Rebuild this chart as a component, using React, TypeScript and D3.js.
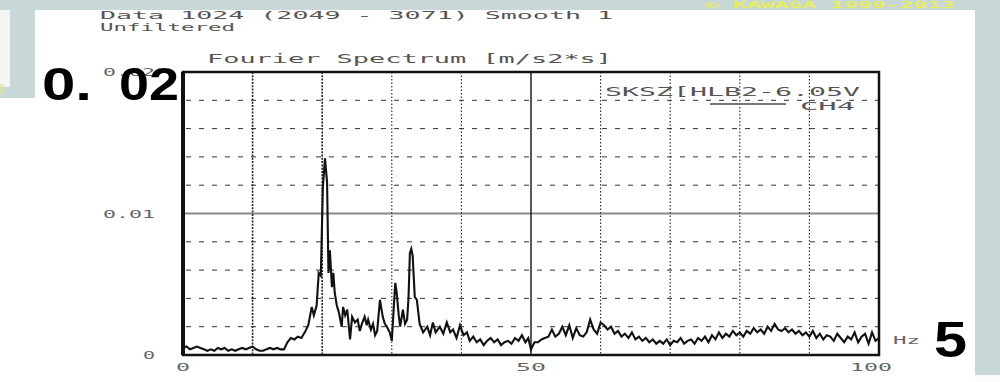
import React from 'react';
import * as d3 from 'd3';

// ---- data ----
const freqHz = [
  0, 0.5, 1, 1.5, 2, 2.5, 3, 3.5, 4, 4.5, 5, 5.5, 6, 6.5, 7, 7.5, 8, 8.5, 9, 9.5,
  10, 10.5, 11, 11.5, 12, 12.5, 13, 13.5, 14, 14.5, 15, 15.5, 16, 16.5, 17, 17.5, 18, 18.5, 18.8, 19.2,
  19.5, 19.8, 20.1, 20.4, 20.7, 20.9, 21.1, 21.4, 21.6, 21.8, 22.1, 22.4, 22.8, 23.0, 23.3, 23.6, 24.0, 24.3, 24.7, 25.1,
  25.4, 25.7, 26.1, 26.4, 26.6, 27.0, 27.3, 27.6, 27.9, 28.3, 28.7, 29.0, 29.3, 29.7, 30.0, 30.3, 30.5, 30.7, 31.0, 31.2,
  31.6, 31.9, 32.2, 32.4, 32.6, 32.8, 33.0, 33.3, 33.6, 34.0, 34.5, 35.1, 35.5, 35.9, 36.3, 36.9, 37.4, 37.9, 38.4, 38.8,
  39.3, 39.8, 40.3, 40.8, 41.2, 41.7, 42.2, 42.7, 43.2, 43.7, 44.2, 44.7, 45.2, 45.7, 46.2, 46.7, 47.2, 47.7, 48.2, 48.7,
  49.2, 49.6, 50.0, 50.5, 51.0, 51.5, 52.0, 52.5, 53.0, 53.5, 54.0, 54.5, 55.0, 55.5, 56.0, 56.5, 57.0, 57.5, 58.0, 58.5,
  59.0, 59.5, 60.0, 60.5, 61.0, 61.5, 62.0, 62.5, 63.0, 63.5, 64.0, 64.5, 65.0, 65.5, 66.0, 66.5, 67.0, 67.5, 68.0, 68.5,
  69.0, 69.5, 70.0, 70.5, 71.0, 71.5, 72.0, 72.5, 73.0, 73.5, 74.0, 74.5, 75.0, 75.5, 76.0, 76.5, 77.0, 77.5, 78.0, 78.5,
  79.0, 79.5, 80.0, 80.5, 81.0, 81.5, 82.0, 82.5, 83.0, 83.5, 84.0, 84.5, 85.0, 85.5, 86.0, 86.5, 87.0, 87.5, 88.0, 88.5,
  89.0, 89.5, 90.0, 90.5, 91.0, 91.5, 92.0, 92.5, 93.0, 93.5, 94.0, 94.5, 95.0, 95.5, 96.0, 96.5, 97.0, 97.5, 98.0, 98.5,
  99.0, 99.5, 100.0,
];

const amplitude = [
  0.0005, 0.0006, 0.0004, 0.0005, 0.0006, 0.0005, 0.0004, 0.0003, 0.0004, 0.0003, 0.0005, 0.0004, 0.0005, 0.0003, 0.0004, 0.0003, 0.0004, 0.0005, 0.0004, 0.0005,
  0.0006, 0.0004, 0.0003, 0.0003, 0.0004, 0.0005, 0.0004, 0.0005, 0.0004, 0.0004, 0.0009, 0.0012, 0.0011, 0.0013, 0.0012, 0.0016, 0.0021, 0.0034, 0.0028, 0.0035,
  0.0058, 0.0056, 0.0119, 0.0139, 0.0122, 0.0058, 0.0074, 0.0048, 0.0058, 0.0044, 0.0035, 0.0030, 0.0020, 0.0034, 0.0028, 0.0032, 0.0011, 0.0027, 0.0023, 0.0025,
  0.0017, 0.0022, 0.0027, 0.0021, 0.0025, 0.0018, 0.0022, 0.0014, 0.0017, 0.0039, 0.0027, 0.0022, 0.0020, 0.0016, 0.0010, 0.0035, 0.0051, 0.0044, 0.0028, 0.0020,
  0.0032, 0.0022, 0.0025, 0.0040, 0.0072, 0.0075, 0.0070, 0.0041, 0.0039, 0.0022, 0.0016, 0.0020, 0.0014, 0.0023, 0.0016, 0.0020, 0.0015, 0.0023, 0.0016, 0.0018,
  0.0012, 0.0021, 0.0014, 0.0016, 0.0010, 0.0013, 0.0009, 0.0011, 0.0007, 0.0010, 0.0012, 0.0009, 0.0011, 0.0007, 0.0009, 0.0010, 0.0008, 0.0012, 0.0010, 0.0014,
  0.0009, 0.0012, 0.0004, 0.0009, 0.0009, 0.0011, 0.0012, 0.0013, 0.0018, 0.0013, 0.0015, 0.0020, 0.0014, 0.0021, 0.0012, 0.0019, 0.0014, 0.0013, 0.0016, 0.0025,
  0.0018, 0.0015, 0.0023, 0.0021, 0.0018, 0.0020, 0.0015, 0.0017, 0.0013, 0.0015, 0.0012, 0.0016, 0.0011, 0.0013, 0.0010, 0.0012, 0.0009, 0.0011, 0.0008, 0.0010,
  0.0008, 0.0011, 0.0007, 0.0010, 0.0009, 0.0012, 0.0008, 0.0010, 0.0011, 0.0008, 0.0012, 0.0010, 0.0013, 0.0009, 0.0014, 0.0011, 0.0016, 0.0012, 0.0015, 0.0013,
  0.0017, 0.0014, 0.0016, 0.0013, 0.0017, 0.0015, 0.0019, 0.0016, 0.0018, 0.0015, 0.0020, 0.0017, 0.0022, 0.0018, 0.0017, 0.0019, 0.0016, 0.0018, 0.0015, 0.0017,
  0.0014, 0.0016, 0.0013, 0.0017, 0.0012, 0.0015, 0.0011, 0.0014, 0.0013, 0.0010, 0.0015, 0.0012, 0.0009, 0.0013, 0.0011, 0.0016, 0.0009, 0.0013, 0.0015, 0.0008,
  0.0016, 0.0010, 0.0012,
];

const yLabelTicks = [0, 0.01, 0.02];
const yLabelText = ['0', '0.01', '0.02'];
const xLabelTicks = [0, 50, 100];
const headerLine1 = 'Data 1024 (2049 - 3071)  Smooth 1';
const headerLine2 = 'Unfiltered';
const chartTitle = 'Fourier Spectrum [m/s2*s]';
const legendTitle = 'SKSZ[HLB2-6.05V';
const seriesName = 'CH4';
const unitLabel = 'Hz';
const overlayBig = ['0.', '02'];
const overlayRight = '5';
const watermark = '© KAWAGA 1999-2013';

const MONO = '"DejaVu Sans Mono", monospace';
const TXT = '#555';

export default function App() {
  const W = 1000;
  const H = 382;
  const left = 183, right = 879, top = 72, bottom = 355;

  const x = d3.scaleLinear().domain([0, 100]).range([left, right]);
  const y = d3.scaleLinear().domain([0, 0.02]).range([bottom, top]);
  const xGrid = x.ticks(10);
  const yGrid = y.ticks(10);

  const pts: [number, number][] = freqHz.map((f, i) => [f, amplitude[i]]);
  const path = d3
    .line<[number, number]>()
    .x((d) => x(d[0]))
    .y((d) => y(d[1]))(pts) || '';

  return (
    <svg
      width={W}
      height={H}
      style={{ position: 'fixed', left: 0, top: 0, display: 'block' }}
    >
      {/* background frames */}
      <rect x={0} y={0} width={W} height={H} fill="#c8d7d7" />
      <rect x={0} y={10} width={975} height={372} fill="#ffffff" />
      <rect x={975} y={375} width={25} height={7} fill="#fbfbfb" />
      <rect x={0} y={10} width={35} height={88} fill="#c8d7d7" />
      <rect x={0} y={10} width={10} height={77} fill="#f4f6f4" />
      <rect x={0} y={84} width={4} height={10} fill="#dfe88a" opacity={0.6} />
      <text x={705} y={8} fontFamily={MONO} fontSize={8} fontWeight="bold" fill="#e6ee5c" textLength={250} lengthAdjust="spacingAndGlyphs">
        {watermark}
      </text>

      {/* header texts */}
      <text x={100} y={19} fontFamily={MONO} fontSize={11} fill={TXT} textLength={513} lengthAdjust="spacingAndGlyphs">
        {headerLine1}
      </text>
      <text x={100} y={31} fontFamily={MONO} fontSize={11} fill={TXT} textLength={135} lengthAdjust="spacingAndGlyphs">
        {headerLine2}
      </text>
      <text x={207} y={63} fontFamily={MONO} fontSize={13} fill={TXT} textLength={405} lengthAdjust="spacingAndGlyphs">
        {chartTitle}
      </text>

      {/* grid: horizontal */}
      {yGrid.map((t) => {
        if (t === 0 || Math.abs(t - 0.02) < 1e-9) return null;
        if (Math.abs(t - 0.01) < 1e-9) {
          return <line key={'h' + t} x1={left} x2={right} y1={y(t)} y2={y(t)} stroke="#8a8a8a" strokeWidth={2.2} />;
        }
        return (
          <line key={'h' + t} x1={left + 3} x2={right} y1={y(t)} y2={y(t)} stroke="#333" strokeWidth={1} strokeDasharray="5,8" />
        );
      })}
      {/* grid: vertical */}
      {xGrid.map((t) => {
        if (t === 0 || t === 100) return null;
        if (t === 50) {
          return <line key={'v' + t} x1={x(t)} x2={x(t)} y1={top} y2={bottom} stroke="#111" strokeWidth={1.4} />;
        }
        const bold = t <= 20;
        return (
          <line
            key={'v' + t}
            x1={x(t)}
            x2={x(t)}
            y1={top}
            y2={bottom}
            stroke="#222"
            strokeWidth={bold ? 1.6 : 1.1}
            strokeDasharray={bold ? '2,1.3' : '1.5,2'}
          />
        );
      })}

      {/* spectrum */}
      <path d={path} fill="none" stroke="#111" strokeWidth={2.1} strokeLinejoin="miter" />

      {/* frame */}
      <rect x={left} y={top} width={right - left} height={bottom - top} fill="none" stroke="#111" strokeWidth={2.5} />
      <line x1={left} x2={left} y1={top} y2={bottom} stroke="#111" strokeWidth={4} />

      {/* axis labels */}
      {yLabelTicks.map((t, i) => (
        <text
          key={'yl' + t}
          x={left - 28}
          y={y(t) + 4}
          textAnchor="end"
          fontFamily={MONO}
          fontSize={11}
          fill="#666"
          textLength={i === 0 ? 12 : 52}
          lengthAdjust="spacingAndGlyphs"
        >
          {yLabelText[i]}
        </text>
      ))}
      {xLabelTicks.map((t) => (
        <text
          key={'xl' + t}
          x={x(t) + (t === 100 ? -8 : 0)}
          y={371}
          textAnchor="middle"
          fontFamily={MONO}
          fontSize={11}
          fill="#666"
          textLength={t === 0 ? 14 : t === 50 ? 30 : 42}
          lengthAdjust="spacingAndGlyphs"
        >
          {t}
        </text>
      ))}
      <text x={893} y={344} fontFamily={MONO} fontSize={11} fill="#666" textLength={27} lengthAdjust="spacingAndGlyphs">
        {unitLabel}
      </text>

      {/* legend */}
      <text x={605} y={96} fontFamily={MONO} fontSize={12} fill={TXT} textLength={255} lengthAdjust="spacingAndGlyphs">
        {legendTitle}
      </text>
      <line x1={710} x2={786} y1={104} y2={104} stroke="#777" strokeWidth={2} />
      <text x={800} y={110} fontFamily={MONO} fontSize={11} fill={TXT} textLength={55} lengthAdjust="spacingAndGlyphs">
        {seriesName}
      </text>

      {/* big overlay annotations */}
      <text x={42} y={100} fontFamily='"Liberation Sans", Arial, sans-serif' fontWeight="bold" fontSize={46} fill="#000" textLength={50} lengthAdjust="spacingAndGlyphs">
        {overlayBig[0]}
      </text>
      <text x={119} y={100} fontFamily='"Liberation Sans", Arial, sans-serif' fontWeight="bold" fontSize={46} fill="#000" textLength={60} lengthAdjust="spacingAndGlyphs">
        {overlayBig[1]}
      </text>
      <text x={934} y={357} fontFamily='"Liberation Sans", Arial, sans-serif' fontWeight="bold" fontSize={50} fill="#000" textLength={33} lengthAdjust="spacingAndGlyphs">
        {overlayRight}
      </text>
    </svg>
  );
}
